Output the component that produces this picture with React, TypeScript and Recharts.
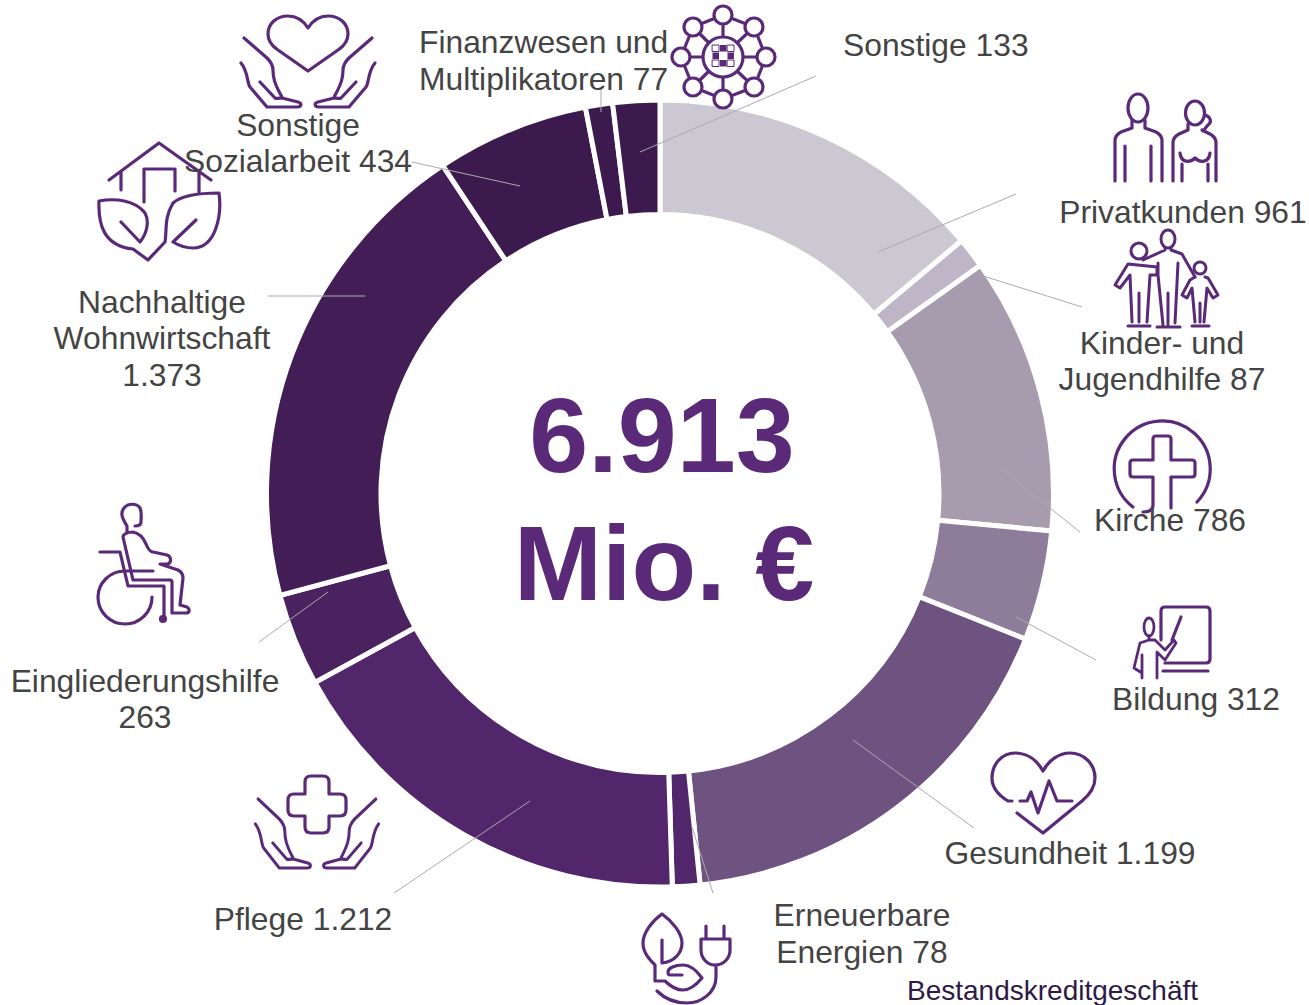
import React from 'react';
import { PieChart, Pie, Cell } from 'recharts';

const categories = [
  'Privatkunden', 'Kinder- und Jugendhilfe', 'Kirche', 'Bildung', 'Gesundheit', 'Erneuerbare Energien',
  'Pflege', 'Eingliederungshilfe', 'Nachhaltige Wohnwirtschaft', 'Sonstige Sozialarbeit',
  'Finanzwesen und Multiplikatoren', 'Sonstige',
];
const values = [961, 87, 786, 312, 1199, 78, 1212, 263, 1373, 434, 77, 133];
const colors = [
  '#CCC8D2', '#BEB6C6', '#A79BAE', '#8E7D9A', '#6E5280', '#52266A',
  '#52266A', '#4A2260', '#431E56', '#3C1A4D', '#3C1A4D', '#3C1A4D',
];
const chartData = categories.map((name, i) => ({ name, value: values[i] }));

const PURPLE = '#5A2A78';
const GREY_TEXT = '#444444';

// [anchor, x, baseline y, text]
const labels: [string, number, number, string][] = [
  ['start', 843, 56, 'Sonstige 133'],
  ['middle', 298, 136, 'Sonstige'],
  ['middle', 298, 172, 'Sozialarbeit 434'],
  ['start', 419, 53, 'Finanzwesen und'],
  ['start', 419, 90, 'Multiplikatoren 77'],
  ['middle', 162, 313, 'Nachhaltige'],
  ['middle', 162, 349, 'Wohnwirtschaft'],
  ['middle', 162, 386, '1.373'],
  ['middle', 145, 692, 'Eingliederungshilfe'],
  ['middle', 145, 728, '263'],
  ['middle', 303, 930, 'Pflege 1.212'],
  ['middle', 862, 926, 'Erneuerbare'],
  ['middle', 862, 963, 'Energien 78'],
  ['middle', 1070, 864, 'Gesundheit 1.199'],
  ['middle', 1196, 710, 'Bildung 312'],
  ['middle', 1170, 531, 'Kirche 786'],
  ['middle', 1162, 354, 'Kinder- und'],
  ['middle', 1162, 390, 'Jugendhilfe 87'],
  ['middle', 1183, 223, 'Privatkunden 961'],
];

// leader lines from the labels into the ring
const leaders = [
  [816, 76, 640, 152], [1016, 194, 878, 252], [1082, 307, 980, 275], [1080, 532, 1000, 468],
  [1096, 660, 1016, 617], [974, 828, 853, 740], [713, 893, 692, 827], [394, 893, 530, 801],
  [259, 642, 328, 592], [268, 296, 365, 296], [412, 162, 520, 186], [601, 88, 601, 112],
];

// one hand, relative to the icon's centre line and bottom edge
const HAND = 'M-64 -69 L-41 -49 C-36 -44 -35 -40 -35 -37 C-35 -30 -34 -24 -26 -10 M-48 -25 L-33 -9 C-31 -8 -28 -9 -26 -9 L-10 -5 C-6 -4 -6 0 -11 0 L-41 0 L-58 -20 C-61 -24 -60 -36 -67 -44';

const Hands = ({ x, y, sx = 1 }: { x: number; y: number; sx?: number }) => (
  <g transform={`translate(${x} ${y})`}>
    <path d={HAND} transform={`scale(${sx} 1)`} />
    <path d={HAND} transform={`scale(${-sx} 1)`} />
  </g>
);

const netNodes = [[723, 15], [754, 27], [766, 57], [754, 87], [723, 99], [693, 87], [681, 57], [693, 27]];
const netCells = [[715.5, 45], [723, 45], [730.5, 45]];

const NetworkIcon = () => (
  <g>
    {netNodes.map(([x, y], i) => {
      const [nx, ny] = netNodes[(i + 1) % netNodes.length];
      return <line key={i} x1={x} y1={y} x2={nx} y2={ny} />;
    })}
    <path d="M723 15 V37 M723 77 V99 M681 57 H703 M743 57 H766 M693 27 L709 43 M754 27 L737 43 M693 87 L709 71 M754 87 L737 71" />
    <circle cx={723} cy={57} r={20} fill="#fff" />
    {netNodes.map(([x, y], i) => (
      <circle key={i} cx={x} cy={y} r={9} fill="#fff" />
    ))}
    {[0, 1, 2].map((row) =>
      netCells.map(([x, y], col) => {
        const filled = (row + col) % 2 === 1;
        return (
          <rect
            key={`${row}-${col}`}
            x={x - 3}
            y={y + row * 7.5}
            width={6.5}
            height={6.5}
            fill={filled ? PURPLE : '#fff'}
            stroke={row === 1 && col === 1 ? 'none' : PURPLE}
            strokeWidth={filled ? 0 : 1}
          />
        );
      }),
    )}
  </g>
);

const Icons = () => (
  <g fill="none" stroke={PURPLE} strokeWidth={3.2} strokeLinecap="round" strokeLinejoin="round">
    {/* heart in hands */}
    <path d="M308 28 C303 20 296 16 288 16 C276 16 268 24 268 34 C268 41 272 46 278 50 L308 71 L338 50 C344 46 348 41 348 34 C348 24 340 16 328 16 C320 16 313 20 308 28 Z" />
    <Hands x={308} y={107} />
    {/* house with leaves */}
    <path d="M109 180 L159 143 L211 180 M121 172 V190 M199 172 V193 M144 202 V169 H175 V191" />
    <path d="M99 201 C115 198 135 200 145 213 C149 220 148 232 140 242 L121 222 M99 201 C98 225 104 246 133 249 L148 260 L165 242 C167 230 164 218 173 203 C182 195 200 193 219 193 C222 215 216 248 193 248 C186 248 178 245 173 242 L196 220" />
    {/* network */}
    <NetworkIcon />
    {/* couple */}
    <ellipse cx={1138} cy={108} rx={10} ry={14} />
    <path d="M1132 120 V128 L1121 132 C1117 134 1115 137 1115 141 V181 M1145 120 V128 L1156 132 C1160 134 1162 137 1162 141 V181 M1125 146 V181 M1151 146 V181" />
    <ellipse cx={1195} cy={113} rx={9.5} ry={12} />
    <path d="M1188 124 V130 L1179 134 C1175 136 1173 139 1173 143 V181 M1202 130 L1210 134 C1214 136 1216 139 1216 143 V181 M1205 115 C1211 117 1212 122 1208 125 L1203 131 M1180 153 C1181 163 1190 163 1195 158 C1200 163 1209 163 1210 153 M1182 164 V181 M1208 164 V181" />
    {/* family */}
    <ellipse cx={1168} cy={239} rx={7} ry={9} strokeWidth={3} />
    <path d="M1165 248 V250 L1143 260 M1171 248 V250 L1182 254 L1195 277 M1158 263 V275 L1163 325 M1178 263 L1175 323 M1168 293 V325 M1157 327 H1180" strokeWidth={3} />
    <circle cx={1139} cy={251} r={8} strokeWidth={3} />
    <path d="M1157 267 L1128 264 L1115 285 L1120 288 L1130 275 L1132 322 M1157 267 V275 H1150 L1147 322 M1139 293 V322 M1128 326 H1150" strokeWidth={3} />
    <circle cx={1200} cy={268} r={6} strokeWidth={3} />
    <path d="M1195 277 L1190 280 L1182 295 L1187 298 L1192 288 L1195 322 M1205 277 L1208 278 L1218 295 L1213 298 L1207 288 L1204 322 M1200 303 V322 M1192 326 H1209" strokeWidth={3} />
    {/* cross */}
    <path d="M1133 507 A48 48 0 1 1 1197 502" />
    <path d="M1171 508 V477 H1192 Q1195 477 1195 474 V463 Q1195 460 1192 460 H1171 V439 Q1171 436 1168 436 H1156 Q1153 436 1153 439 V460 H1133 Q1130 460 1130 463 V474 Q1130 477 1133 477 H1153 V505 Q1153 512 1143 512" />
    {/* teacher */}
    <path d="M1161 640 V611 Q1161 607 1165 607 H1206 Q1210 607 1210 611 V659 Q1210 663 1206 663 H1165 M1163 671 H1208 M1181 617 L1172 640" />
    <ellipse cx={1149} cy={627} rx={5} ry={9} strokeWidth={2.8} />
    <path d="M1149 636 V640 L1140 643 L1134 668 L1142 673 M1149 640 H1155 L1165 650 L1174 640 L1176 643 L1165 660 L1157 652 V678 M1142 655 V678" strokeWidth={2.8} />
    {/* heart with pulse */}
    <path d="M1012 801 H1008 C998 795 992 788 992 778 C992 764 1002 753 1015 753 C1027 753 1037 760 1043 771 C1049 760 1059 753 1070 753 C1084 753 1095 764 1095 778 C1095 788 1088 796 1082 801 L1043 833 L1017 813" />
    <path d="M1020 801 H1027 L1031 792 L1038 813 L1049 781 L1057 801 H1072" />
    {/* leaf and plug */}
    <path d="M662 940 V963 C674 962 682 953 682 943 C682 933 672 921 662 914 C652 921 643 933 643 943 C643 953 650 960 655 965 V981 H665 C672 988 678 990 683 990 C691 990 697 984 702 978 C697 971 691 965 683 965 C675 965 668 968 668 972 C668 974 669 975 670 975 H682" />
    <path d="M706 926 V939 M724 926 V939 M701 939 H730 V950 C730 958 724 965 715 965 C707 965 701 958 701 950 Z M716 965 V977 C716 992 702 1003 687 1003 C674 1003 664 998 657 991" />
    {/* wheelchair */}
    <path d="M127 526 C122 518 120 513 124 508 C128 503 137 503 140 508 C142 512 141 518 141 522 C141 525 138 526 135 526 M127 527 V532 M133 532 C139 533 143 537 146 544 C148 549 150 552 153 552 L167 555 C171 556 172 562 168 564 L160 564 L178 570 C182 572 183 574 183 578 L180 605 L187 607 C190 609 190 613 186 613 H172 V582 Q172 580 170 580 H133 L123 537 C123 534 128 532 133 532 Z" />
    <path d="M100 552 H120 L128 586 H164 V618 M153 571 H125 C110 571 98 583 98 597 C98 612 110 624 125 624 C140 624 152 612 152 597" />
    <circle cx={163} cy={619} r={2.5} fill={PURPLE} />
    {/* plus in hands */}
    <path d="M311 776 H323 Q329 776 329 782 V794 H340 Q346 794 346 800 V810 Q346 816 340 816 H329 V827 Q329 833 323 833 H311 Q305 833 305 827 V816 H294 Q288 816 288 810 V800 Q288 794 294 794 H305 V782 Q305 776 311 776 Z" />
    <Hands x={317} y={868} sx={0.92} />
  </g>
);

export default function App() {
  return (
    <div style={{ position: 'absolute', left: 0, top: 0, width: 1309, height: 1005, background: '#fff', overflow: 'hidden' }}>
      <PieChart width={1309} height={1005} margin={{ top: 0, right: 0, bottom: 0, left: 0 }}>
        <Pie
          data={chartData}
          dataKey="value"
          nameKey="name"
          cx={660}
          cy={493.5}
          innerRadius={279}
          outerRadius={393.5}
          startAngle={90}
          endAngle={-270}
          stroke="#fff"
          strokeWidth={5}
          isAnimationActive={false}
        >
          {chartData.map((entry, i) => (
            <Cell key={entry.name} fill={colors[i]} />
          ))}
        </Pie>
      </PieChart>
      <svg width={1309} height={1005} style={{ position: 'absolute', left: 0, top: 0 }} fontFamily="'Liberation Sans', Arial, sans-serif">
        {leaders.map(([x1, y1, x2, y2], i) => (
          <line key={i} x1={x1} y1={y1} x2={x2} y2={y2} stroke="#ABABAB" strokeWidth={1} />
        ))}
        <Icons />
        {labels.map(([anchor, x, y, text]) => (
          <text key={text} x={x} y={y} textAnchor={anchor as 'start' | 'middle'} fontSize={31.8} fill={GREY_TEXT}>
            {text}
          </text>
        ))}
        <text x={662} y={472} textAnchor="middle" fontSize={106} fontWeight={700} fill={PURPLE}>6.913</text>
        <text x={664} y={600} textAnchor="middle" fontSize={106} fontWeight={700} fill={PURPLE}>Mio. €</text>
        <text x={907} y={1000} fontSize={28} fill="#2E1A47">Bestandskreditgeschäft</text>
      </svg>
    </div>
  );
}
